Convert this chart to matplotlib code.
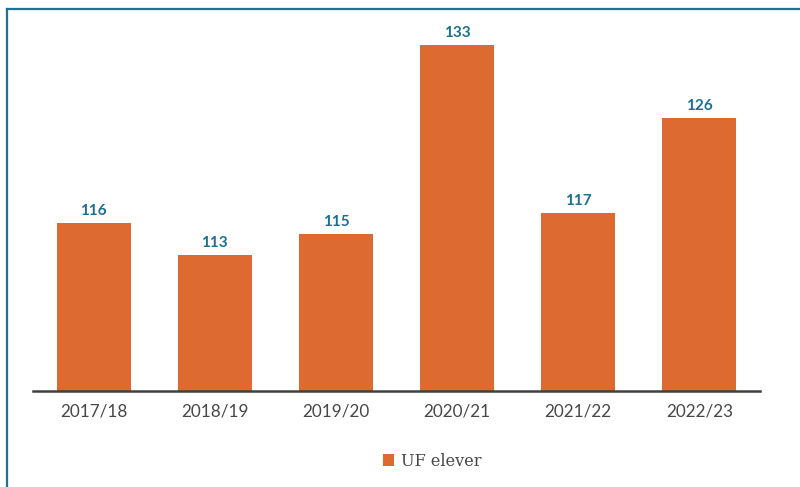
import matplotlib
matplotlib.use('Agg')
import matplotlib.pyplot as plt
from matplotlib.lines import Line2D

# Data
skolaar = ['2017/18', '2018/19', '2019/20', '2020/21', '2021/22', '2022/23']
uf_elever = [116, 113, 115, 133, 117, 126]

bar_color = '#dd6a31'
label_color = '#1b6f91'
border_color = '#1a7394'

fig = plt.figure(figsize=(8, 4.87), dpi=100)
ax = fig.add_axes([0.04125, 0.197, 0.90875, 0.765])

x = range(len(skolaar))
bars = ax.bar(x, uf_elever, width=0.61, color=bar_color, label='UF elever')

for b, v in zip(bars, uf_elever):
    ax.text(b.get_x() + b.get_width() / 2, v + 0.45, str(v), ha='center', va='bottom',
            color=label_color, fontsize=11, fontweight='bold', family='Lato')

ax.set_xlim(-0.5, 5.5)
ax.set_ylim(100, 135.5)
ax.set_xticks(list(x))
ax.set_xticklabels(skolaar, fontsize=12.3, color='#474747', family='Lato')
ax.tick_params(axis='x', length=0, pad=9)
ax.set_yticks([])
for s in ['top', 'right', 'left']:
    ax.spines[s].set_visible(False)
ax.spines['bottom'].set_color('#404040')
ax.spines['bottom'].set_linewidth(1.8)

fig.legend(handles=[bars], labels=['UF elever'], loc='center', bbox_to_anchor=(0.54, 0.053),
           frameon=False, handlelength=0.7, handleheight=0.7, handletextpad=0.4,
           prop={'family': 'DejaVu Serif', 'size': 11.6}, labelcolor='#474747')

# Frame on left and top edges
fig.add_artist(Line2D([7 / 800, 7 / 800], [0, 1 - 9 / 487], color=border_color, lw=1.6,
                      transform=fig.transFigure))
fig.add_artist(Line2D([7 / 800, 1], [1 - 9 / 487, 1 - 9 / 487], color=border_color, lw=1.6,
                      transform=fig.transFigure))

plt.savefig('out.png', dpi=100)
